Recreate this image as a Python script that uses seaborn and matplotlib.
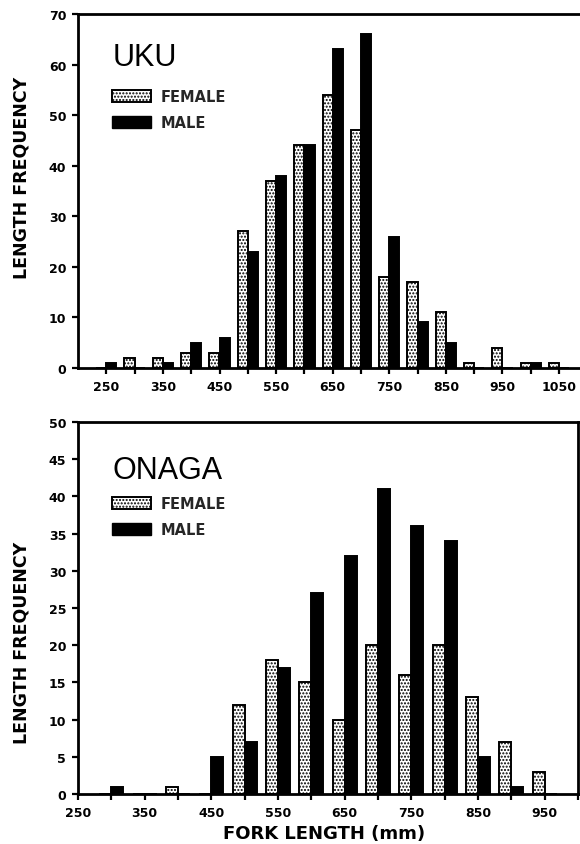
import numpy as np
import pandas as pd
import matplotlib
matplotlib.use("Agg")
import matplotlib.pyplot as plt
from matplotlib.patches import Patch
from matplotlib import font_manager as fm
import seaborn as sns

# ---------------- data ----------------
uku_length = [250, 300, 350, 400, 450, 500, 550, 600, 650, 700, 750, 800, 850, 900, 950, 1000, 1050]
uku_female = [0, 2, 2, 3, 3, 27, 37, 44, 54, 47, 18, 17, 11, 1, 4, 1, 1]
uku_male = [1, 0, 1, 5, 6, 23, 38, 44, 63, 66, 26, 9, 5, 0, 0, 1, 0]

onaga_length = [300, 350, 400, 450, 500, 550, 600, 650, 700, 750, 800, 850, 900, 950]
onaga_female = [0, 0, 1, 0, 12, 18, 15, 10, 20, 16, 20, 13, 7, 3]
onaga_male = [1, 0, 0, 5, 7, 17, 27, 32, 41, 36, 34, 5, 1, 0]

uku_xticklabels = ["250", "350", "450", "550", "650", "750", "850", "950", "1050"]
onaga_xticklabels = ["250", "350", "450", "550", "650", "750", "850", "950"]
sexes = ["FEMALE", "MALE"]

# ---------------- style ----------------
sns.set_theme(style="ticks")
plt.rcParams["font.family"] = ["DejaVu Sans"]
plt.rcParams["hatch.linewidth"] = 1.0
names = {f.name for f in fm.fontManager.ttflist}
cond_font = "Liberation Sans Narrow" if "Liberation Sans Narrow" in names else "DejaVu Sans"
title_font = "Liberation Sans" if "Liberation Sans" in names else "DejaVu Sans"

W, H = 580, 845
fig = plt.figure(figsize=(W / 100, H / 100), dpi=100)


def make_df(lengths, female, male):
    return pd.DataFrame({
        "length": list(lengths) * 2,
        "count": list(female) + list(male),
        "sex": ["FEMALE"] * len(lengths) + ["MALE"] * len(lengths),
    })


def draw(ax, df, xlim, ylim, yticks, xticks, xticklabels, title, title_y, leg_y):
    sns.barplot(data=df, x="length", y="count", hue="sex", hue_order=sexes,
                native_scale=True, width=0.72, dodge=True, gap=0,
                palette={"FEMALE": "white", "MALE": "black"},
                edgecolor="black", linewidth=1.4, errorbar=None,
                legend=False, ax=ax, zorder=2)
    for bar in ax.containers[0]:
        bar.set_hatch(".....")
    ax.set_xlim(*xlim)
    ax.set_ylim(*ylim)
    ax.set_yticks(yticks)
    ax.set_yticklabels([str(v) for v in yticks])
    ax.set_xticks(xticks)
    lab = []
    for t in xticks:
        s = str(int(t))
        lab.append(s if s in xticklabels else "")
    ax.set_xticklabels(lab)
    ax.set_xlabel("")
    ax.set_ylabel("")
    for s in ax.spines.values():
        s.set_linewidth(2.0)
        s.set_color("black")
    ax.tick_params(axis="both", direction="out", length=4.5, width=1.6, color="black",
                   labelsize=9, pad=4)
    for t in ax.get_xticklabels() + ax.get_yticklabels():
        t.set_fontweight("bold")
        t.set_color("black")
    fig.text(113 / W, 1 - title_y / H, title, fontsize=22, family=title_font,
             ha="left", va="center", color="black")
    handles = [Patch(facecolor="white", edgecolor="black", hatch=".....", linewidth=1.4),
               Patch(facecolor="black", edgecolor="black")]
    ax.legend(handles, sexes, loc="upper left",
              bbox_to_anchor=(112 / W, 1 - leg_y / H), bbox_transform=fig.transFigure,
              frameon=False, handlelength=2.7, handleheight=0.85, handletextpad=0.6,
              labelspacing=0.75, borderpad=0, borderaxespad=0,
              prop={"weight": "bold", "size": 10.5})


# top panel: UKU
ax1 = fig.add_axes([78 / W, 1 - 369 / H, 900 * 0.566 / W, 354 / H])
draw(ax1, make_df(uku_length, uku_female, uku_male), (200, 1100), (0, 70),
     list(range(0, 71, 10)), list(range(250, 1100, 50)), uku_xticklabels,
     "UKU", 58, 90)
ax1.spines["right"].set_visible(False)

# bottom panel: ONAGA
ax2 = fig.add_axes([78 / W, 1 - 795 / H, 500 / W, 372 / H])
draw(ax2, make_df(onaga_length, onaga_female, onaga_male), (250, 1000), (0, 50),
     list(range(0, 51, 5)), list(range(250, 1001, 50)), onaga_xticklabels,
     "ONAGA", 471, 497)

# axis labels
for yc in (178, 643):
    fig.text(22 / W, 1 - yc / H, "LENGTH FREQUENCY", rotation=90, ha="center", va="center",
             fontsize=16 if cond_font != "DejaVu Sans" else 12.5, fontweight="bold",
             family=cond_font, color="black")
fig.text(324 / W, 1 - 834 / H, "FORK LENGTH (mm)", ha="center", va="center",
         fontsize=13, fontweight="bold", color="black")

fig.savefig("out.png", dpi=100)
